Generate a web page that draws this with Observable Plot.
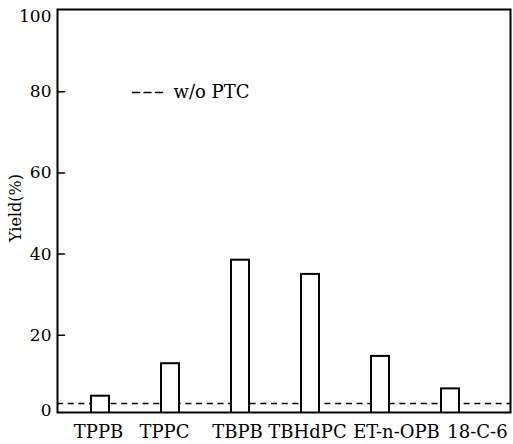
<!DOCTYPE html>
<html>
<head>
<meta charset="utf-8">
<script src="https://cdn.jsdelivr.net/npm/d3@7"></script>
<script src="https://cdn.jsdelivr.net/npm/@observablehq/plot@0.6"></script>
<style>
  html, body { margin: 0; padding: 0; background: white; }
  #chart svg, #chart svg text { font-family: "DejaVu Serif", serif !important; }
</style>
</head>
<body>
<div id="chart"></div>
<script>
// ---- data ----
const categories = ["TPPB", "TPPC", "TBPB", "TBHdPC", "ET-n-OPB", "18-C-6"];
const yields = [5, 13, 38.5, 35, 14.8, 6.8];
const withoutPTC = [3.2];
const yTickValues = [20, 40, 60, 80];
const yTopTick = [100];
const yBottomTick = [0];
const yAxisLabel = "Yield(%)";
const legendLabel = "w/o PTC";

const data = categories.map((c, i) => ({name: c, value: yields[i]}));
const serif = "DejaVu Serif";

const lineShape = {draw(context, l) { context.moveTo(0, 0); context.lineTo(0, -l); }};

const xLabel = (i, dx) => Plot.axisX([categories[i]], {
  tickSize: 0, tickPadding: 13, fontSize: 18, dx, label: null, fontFamily: serif
});

const chart = Plot.plot({
  width: 513,
  height: 444,
  marginLeft: 57,
  marginRight: 3,
  marginTop: 9,
  marginBottom: 32,
  style: {fontFamily: serif, fontSize: "18px", background: "white", color: "black"},
  x: {domain: categories, paddingInner: 0.743, paddingOuter: 0.607, align: 0.4, axis: null},
  y: {domain: [0, 100], insetBottom: -4, insetTop: 1, axis: null},
  marks: [
    Plot.ruleY(withoutPTC, {stroke: "black", strokeWidth: 1.5, strokeDasharray: "6,4.7"}),
    Plot.barY(data, {x: "name", y: "value", fill: "white", stroke: "black", strokeWidth: 2, clip: true}),
    Plot.frame({stroke: "black", strokeWidth: 2}),
    Plot.vector(yTickValues, {y: d => d, frameAnchor: "left", rotate: 90, length: 7, anchor: "start",
      shape: lineShape, stroke: "black", strokeWidth: 1.5}),
    Plot.axisY(yTickValues, {tickSize: 0, tickPadding: 6, fontSize: 17, label: null, fontFamily: serif}),
    Plot.axisY(yTopTick, {tickSize: 0, tickPadding: 6, fontSize: 17, dy: 6, label: null, fontFamily: serif}),
    Plot.axisY(yBottomTick, {tickSize: 0, tickPadding: 6, fontSize: 17, dy: -6, label: null, fontFamily: serif}),
    Plot.text([yAxisLabel], {frameAnchor: "left", dx: -42, dy: -3, rotate: -90, fontSize: 16, fill: "black",
      fontFamily: serif, textAnchor: "middle", lineAnchor: "middle"}),
    xLabel(0, -2), xLabel(1, -6), xLabel(2, -3), xLabel(3, -3), xLabel(4, 16), xLabel(5, 27),
    Plot.vector([legendLabel], {frameAnchor: "top-left", dx: 75, dy: 83, rotate: 90, length: 30,
      anchor: "start", shape: lineShape, stroke: "black", strokeWidth: 1.5, strokeDasharray: "7,4.5"}),
    Plot.text([legendLabel], {frameAnchor: "top-left", dx: 116, dy: 83, fontSize: 18, fill: "black",
      fontFamily: serif, textAnchor: "start", lineAnchor: "middle"})
  ]
});

document.getElementById("chart").appendChild(chart);
</script>
</body>
</html>
